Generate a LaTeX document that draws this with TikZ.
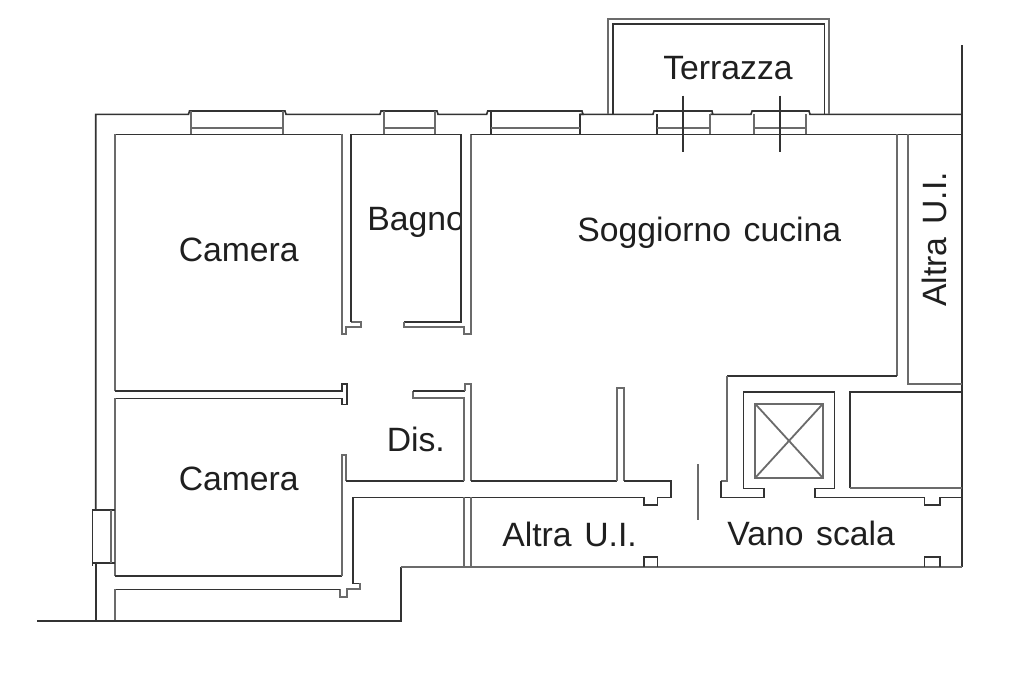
\documentclass[tikz,border=0pt]{standalone}
\usepackage{fontspec}
\setmainfont[WordSpace=1.35]{Liberation Sans}
\tikzset{
  wall/.style={draw=black!80,line width=1.2pt,line cap=butt,line join=miter},
  thin wall/.style={draw=black!58,line width=1.35pt,line join=miter},
  label text/.style={inner sep=0pt,font=\fontsize{25.3pt}{28pt}\selectfont,text=black!88,anchor=base west}
}
\begin{document}
\begin{tikzpicture}[x=0.75pt,y=-0.75pt]
\useasboundingbox (0,0) rectangle (1024,682);
\fill[white] (0,0) rectangle (1024,682);
% labels
\node[label text] (camA) at (178.5,261) {Camera};
\begin{scope}
\clip (355,190) rectangle (461,250);
\node[label text] (bagno) at (367,230.5) {Bagno};
\end{scope}
\node[label text] (sogg) at (577,241) {Soggiorno cucina};
\node[label text] (terr) at (663,79) {Terrazza};
\node[label text,rotate=90] (altraA) at (946.5,307) {Altra U.I.};
\node[label text] (camB) at (178.5,490) {Camera};
\node[label text] (dis) at (386.5,451.5) {Dis.};
\node[label text] (altraB) at (502,546) {Altra U.I.};
\node[label text] (vano) at (727,545) {Vano scala};
% outer wall, top
\draw[wall] (95.7,510) -- (95.7,114.3) -- (188.5,114.3) -- (189.5,111) -- (285,111) -- (286,114.3) -- (380,114.3) -- (381,111) -- (437,111) -- (438,114.3) -- (486.7,114.3) -- (487.7,111) -- (582,111) -- (583,114.3) -- (580,114.3);
\draw[wall] (580,134.3) -- (580,114.3) -- (653,114.3) -- (654,111) -- (712,111) -- (712.7,114.3) -- (710,114.3) -- (751,114.3) -- (752,111) -- (809,111) -- (810,114.3) -- (961.7,114.3);
\draw[wall] (656.7,114.3) -- (656.7,134.3);
% windows in top wall
\draw[thin wall] (191,111) -- (191,134.3) (282.7,111) -- (282.7,134.3) (191,128.3) -- (282.7,128.3);
\draw[thin wall] (384,111) -- (384,134.3) (435,111) -- (435,134.3) (384,128.3) -- (435,128.3);
\draw[wall] (490.7,111) -- (490.7,134.3);
\draw[thin wall] (490.7,128.3) -- (580,128.3);
\draw[thin wall] (656.7,128.3) -- (710,128.3) (710,114.3) -- (710,134.3);
\draw[thin wall] (754,114.3) -- (754,134.3) (806,114.3) -- (806,134.3) (754,128.3) -- (806,128.3);
% terrace
\draw[thin wall] (607.7,114.3) -- (607.7,19.3) -- (829.3,19.3) -- (829.3,114.3);
\draw[wall] (612.7,114.3) -- (612.7,24) -- (824.3,24) -- (824.3,114.3);
\draw[wall] (683,95.7) -- (683,151.7) (780,95.7) -- (780,151.7);
% right edge
\draw[wall] (961.7,45) -- (961.7,566.7);
% left camera (top)
\draw[wall] (115,134.3) -- (341.7,134.3);
\draw[thin wall] (115,391) -- (115,134.3);
\draw[wall] (115,391) -- (341.7,391) -- (341.7,384) -- (346.7,384) -- (346.7,404.3) -- (341.7,404.3) -- (341.7,398.3) -- (115,398.3);
\draw[thin wall] (341.7,134.3) -- (341.7,334) -- (346,334) -- (346,327.3) -- (360.7,327.3) -- (360.7,321.7) -- (350.7,321.7);
\draw[wall] (350.7,321.7) -- (350.7,134.3) -- (461,134.3) -- (461,321.7) -- (404.3,321.7);
\draw[thin wall] (404.3,321.7) -- (404.3,327.3) -- (464,327.3) -- (464,334) -- (470.7,334) -- (470.7,134.3);
\draw[wall] (470.7,134.3) -- (961.7,134.3);
% soggiorno right side and stair shaft
\draw[thin wall] (896.7,134.3) -- (896.7,376);
\draw[wall] (896.7,376) -- (727.3,376);
\draw[thin wall] (727.3,376) -- (727.3,480.7) -- (721,480.7);
\draw[wall] (721,480.7) -- (721,497.3) -- (764,497.3) -- (764,488.3) -- (743.3,488.3) -- (743.3,391.7) -- (834.3,391.7) -- (834.3,488.3) -- (815,488.3) -- (815,497.3) -- (924.3,497.3) -- (924.3,505) -- (940,505) -- (940,497.3) -- (961.7,497.3);
\draw[thin wall] (907.7,134.3) -- (907.7,384.3) -- (961.7,384.3);
\draw[wall] (850,488.3) -- (850,391.7) -- (961.7,391.7);
\draw[thin wall] (850,488.3) -- (961.7,488.3);
% lift
\draw[thin wall] (755.3,404) rectangle (822.7,477.7);
\draw[thin wall] (755.3,404) -- (822.7,477.7) (822.7,404) -- (755.3,477.7);
% free stroke
\draw[thin wall] (698,464.3) -- (698,520);
% left camera (bottom), corridor
\draw[thin wall] (115,398.3) -- (115,576);
\draw[wall] (115,576) -- (341.7,576);
\draw[thin wall] (341.7,576) -- (341.7,455.3) -- (345.7,455.3) -- (345.7,481);
\draw[wall] (345.7,481) -- (464.3,481);
\draw[thin wall] (464.3,481) -- (464.3,398.3) -- (413.3,398.3) -- (413.3,391);
\draw[wall] (413.3,391) -- (465,391);
\draw[thin wall] (465,391) -- (465,384) -- (470.7,384) -- (470.7,481);
\draw[wall] (470.7,481) -- (617.3,481);
\draw[thin wall] (617.3,481) -- (617.3,387.7) -- (624.3,387.7) -- (624.3,481);
\draw[wall] (624.3,481) -- (670.7,481) -- (670.7,497.3) -- (657.3,497.3) -- (657.3,505) -- (644,505) -- (644,497.3) -- (352.7,497.3) -- (352.7,583.3) -- (360,583.3);
\draw[thin wall] (360,583.3) -- (360,589.3) -- (346.7,589.3) -- (346.7,596.7) -- (340,596.7) -- (340,589.3);
\draw[wall] (340,589.3) -- (115,589.3);
\draw[thin wall] (115,589.3) -- (115,620.7);
% double wall down to stair landing
\draw[thin wall] (464.3,497.3) -- (464.3,566.7) (470.7,497.3) -- (470.7,566.7);
% bottom outline
\draw[wall] (37.3,620.7) -- (400.7,620.7) -- (400.7,566.7);
\draw[thin wall] (400.7,566.7) -- (961.7,566.7);
\draw[wall] (644,566.7) -- (644,556.7) -- (657.3,556.7) -- (657.3,566.7);
\draw[wall] (924.3,566.7) -- (924.3,556.7) -- (940,556.7) -- (940,566.7);
% left window
\draw[wall] (95.7,563) -- (95.7,620.7);
\draw[wall] (115,510) -- (92.3,510) -- (92.3,566) (92.3,563) -- (115,563);
\draw[thin wall] (110.7,510) -- (110.7,563);
\end{tikzpicture}
\end{document}
